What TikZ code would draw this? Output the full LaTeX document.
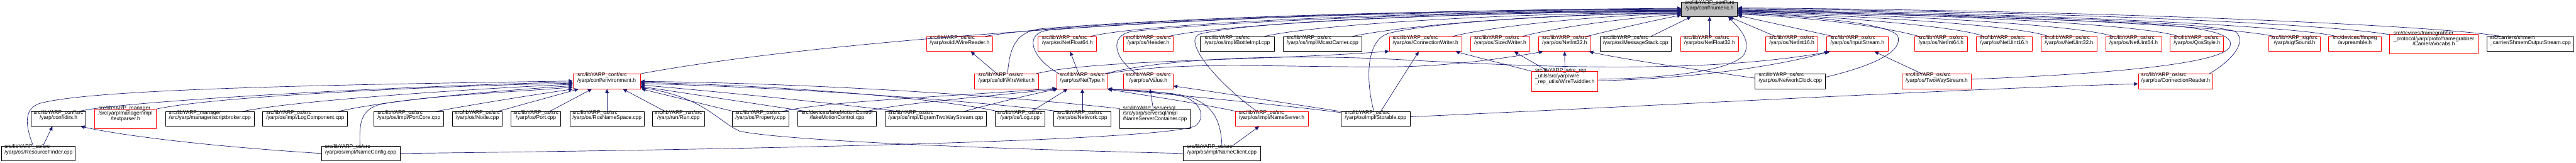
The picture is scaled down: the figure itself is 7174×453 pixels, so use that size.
\documentclass[tikz,border=0pt]{standalone}
\usepackage{fontspec}
\setmainfont{Liberation Sans}
\usetikzlibrary{calc,fit,arrows.meta}
\definecolor{edgec}{HTML}{191970}
\definecolor{boxgray}{HTML}{BFBFBF}
\newcommand\lblfont{\fontsize{7.4}{7.5}\selectfont}
\newcommand\lbtwo[2]{\begin{tabular}{@{}l@{}}#1\\\multicolumn{1}{@{}c@{}}{#2}\end{tabular}}
\newcommand\lbthree[3]{\begin{tabular}{@{}l@{}}#1\\#2\\\multicolumn{1}{@{}c@{}}{#3}\end{tabular}}
\newcommand\yos{src/libYARP\_os/src}
\begin{document}
\begin{tikzpicture}[x=0.5pt,y=-0.5pt,
 nbox/.style={draw=black,line width=0.8pt,inner sep=0pt,font=\lblfont},
 rbox/.style={nbox,draw=red},
 gbox/.style={nbox,fill=boxgray},
 edg/.style={draw=edgec,line width=0.6pt,-{Triangle[length=5.5pt,width=5pt]}}]
\fill[white] (0,0) rectangle (7174,453);
\useasboundingbox (0,0) rectangle (7174,453);
% row 1
\node[gbox,fit={(4683,6)(4839,46)}] (num) {\lbtwo{src/libYARP\_conf/src}{/yarp/conf/numeric.h}};
% row 2
\node[rbox,fit={(2580,102)(2765,143)}] (wread) {\lbtwo{\yos}{/yarp/os/idl/WireReader.h}};
\node[rbox,fit={(2891,102)(3054,143)}] (nf64) {\lbtwo{\yos}{/yarp/os/NetFloat64.h}};
\node[rbox,fit={(3129,102)(3267,143)}] (hdr) {\lbtwo{\yos}{/yarp/os/Header.h}};
\node[nbox,fit={(3343,102)(3549,143)}] (bimpl) {\lbtwo{\yos}{/yarp/os/impl/BottleImpl.cpp}};
\node[nbox,fit={(3573,102)(3793,143)}] (mcast) {\lbtwo{\yos}{/yarp/os/impl/McastCarrier.cpp}};
\node[rbox,fit={(3869,102)(4071,143)}] (cwrite) {\lbtwo{\yos}{/yarp/os/ConnectionWriter.h}};
\node[rbox,fit={(4096,102)(4260,143)}] (swrite) {\lbtwo{\yos}{/yarp/os/SizedWriter.h}};
\node[rbox,fit={(4284,102)(4431,143)}] (ni32) {\lbtwo{\yos}{/yarp/os/NetInt32.h}};
\node[nbox,fit={(4456,102)(4654,143)}] (mstack) {\lbtwo{\yos}{/yarp/os/MessageStack.cpp}};
\node[rbox,fit={(4680,102)(4842,143)}] (nf32) {\lbtwo{\yos}{/yarp/os/NetFloat32.h}};
\node[rbox,fit={(4917,102)(5063,143)}] (ni16) {\lbtwo{\yos}{/yarp/os/NetInt16.h}};
\node[rbox,fit={(5087,102)(5258,143)}] (istream) {\lbtwo{\yos}{/yarp/os/InputStream.h}};
\node[rbox,fit={(5332,102)(5479,143)}] (ni64) {\lbtwo{\yos}{/yarp/os/NetInt64.h}};
\node[rbox,fit={(5503,102)(5660,143)}] (nu16) {\lbtwo{\yos}{/yarp/os/NetUint16.h}};
\node[rbox,fit={(5684,102)(5840,143)}] (nu32) {\lbtwo{\yos}{/yarp/os/NetUint32.h}};
\node[rbox,fit={(5864,102)(6020,143)}] (nu64) {\lbtwo{\yos}{/yarp/os/NetUint64.h}};
\node[rbox,fit={(6044,102)(6192,143)}] (qos) {\lbtwo{\yos}{/yarp/os/QosStyle.h}};
\node[rbox,fit={(6318,102)(6462,143)}] (sound) {\lbtwo{src/libYARP\_sig/src}{/yarp/sig/Sound.h}};
\node[rbox,fit={(6485,102)(6631,143)}] (avpre) {\lbtwo{src/devices/ffmpeg}{/avpreamble.h}};
\node[rbox,fit={(6655,95)(6901,150)}] (camvoc) {\lbthree{src/devices/framegrabber}{\_protocol/yarp/proto/framegrabber}{/CameraVocabs.h}};
\node[nbox,fit={(6926,102)(7168,143)}] (shmem) {\lbtwo{src/carriers/shmem}{\_carrier/ShmemOutputStream.cpp}};
% row 3
\node[rbox,fit={(1596,206)(1783,247)}] (env) {\lbtwo{src/libYARP\_conf/src}{/yarp/conf/environment.h}};
\node[rbox,fit={(2714,206)(2892,247)}] (wwrite) {\lbtwo{\yos}{/yarp/os/idl/WireWriter.h}};
\node[rbox,fit={(2943,206)(3085,247)}] (ntype) {\lbtwo{\yos}{/yarp/os/NetType.h}};
\node[rbox,fit={(3129,206)(3267,247)}] (value) {\lbtwo{\yos}{/yarp/os/Value.h}};
\node[rbox,fit={(4266,199)(4450,254)}] (twiddle) {\lbthree{src/libYARP\_wire\_rep}{\_utils/src/yarp/wire}{\_rep\_utils/WireTwiddler.h}};
\node[nbox,fit={(4888,206)(5084,247)}] (nclock) {\lbtwo{\yos}{/yarp/os/NetworkClock.cpp}};
\node[rbox,fit={(5298,206)(5489,247)}] (twoway) {\lbtwo{\yos}{/yarp/os/TwoWayStream.h}};
\node[rbox,fit={(5955,206)(6163,247)}] (creader) {\lbtwo{\yos}{/yarp/os/ConnectionReader.h}};
% row 4
\node[nbox,fit={(87,311)(239,351)}] (dirs) {\lbtwo{src/libYARP\_conf/src}{/yarp/conf/dirs.h}};
\node[rbox,fit={(263,303)(436,358)}] (tparse) {\lbthree{src/libYARP\_manager}{/src/yarp/manager/impl}{/textparser.h}};
\node[nbox,fit={(461,311)(708,351)}] (sbroker) {\lbtwo{src/libYARP\_manager}{/src/yarp/manager/scriptbroker.cpp}};
\node[nbox,fit={(732,311)(968,351)}] (logcomp) {\lbtwo{\yos}{/yarp/os/impl/LogComponent.cpp}};
\node[nbox,fit={(1042,311)(1236,351)}] (pcore) {\lbtwo{\yos}{/yarp/os/impl/PortCore.cpp}};
\node[nbox,fit={(1260,311)(1399,351)}] (nodecpp) {\lbtwo{\yos}{/yarp/os/Node.cpp}};
\node[nbox,fit={(1423,311)(1562,351)}] (portcpp) {\lbtwo{\yos}{/yarp/os/Port.cpp}};
\node[nbox,fit={(1587,311)(1794,351)}] (rosns) {\lbtwo{\yos}{/yarp/os/RosNameSpace.cpp}};
\node[nbox,fit={(1817,311)(1962,351)}] (runcpp) {\lbtwo{src/libYARP\_run/src}{/yarp/run/Run.cpp}};
\node[nbox,fit={(2039,311)(2197,351)}] (prop) {\lbtwo{\yos}{/yarp/os/Property.cpp}};
\node[nbox,fit={(2222,311)(2441,351)}] (fakemc) {\lbtwo{src/devices/fakeMotionControl}{/fakeMotionControl.cpp}};
\node[nbox,fit={(2465,311)(2747,351)}] (dgram) {\lbtwo{\yos}{/yarp/os/impl/DgramTwoWayStream.cpp}};
\node[nbox,fit={(2771,311)(2910,351)}] (logcpp) {\lbtwo{\yos}{/yarp/os/Log.cpp}};
\node[nbox,fit={(2934,311)(3094,351)}] (netw) {\lbtwo{\yos}{/yarp/os/Network.cpp}};
\node[nbox,fit={(3119,303)(3314,358)}] (nsc) {\lbthree{src/libYARP\_serversql}{/src/yarp/serversql/impl}{/NameServerContainer.cpp}};
\node[rbox,fit={(3440,311)(3643,351)}] (nserver) {\lbtwo{\yos}{/yarp/os/impl/NameServer.h}};
\node[nbox,fit={(3735,311)(3927,351)}] (storable) {\lbtwo{\yos}{/yarp/os/impl/Storable.cpp}};
% row 5
\node[nbox,fit={(5,407)(210,447)}] (rfind) {\lbtwo{\yos}{/yarp/os/ResourceFinder.cpp}};
\node[nbox,fit={(895,407)(1114,447)}] (nconf) {\lbtwo{\yos}{/yarp/os/impl/NameConfig.cpp}};
\node[nbox,fit={(3296,407)(3510,447)}] (nclient) {\lbtwo{\yos}{/yarp/os/impl/NameClient.cpp}};

% edges into environment.h
\draw[edg] ($(rfind.north)+(-15,0)$) .. controls (75,360) and (60,305) .. (110,288) .. controls (250,248) and (900,236) .. ($(env.west)+(0,-1)$);
\draw[edg] ($(dirs.north east)+(-21,0)$) .. controls (330,282) and (1100,240) .. ($(env.west)+(0,2)$);
\draw[edg] ($(tparse.north east)+(0,1)$) .. controls (600,268) and (1200,240) .. ($(env.west)+(0,5)$);
\draw[edg] ($(sbroker.north east)+(-34,0)$) .. controls (820,280) and (1300,248) .. ($(env.west)+(0,8)$);
\draw[edg] ($(logcomp.north east)+(-28,0)$) .. controls (1100,275) and (1400,252) .. ($(env.west)+(0,12)$);
\draw[edg] ($(nconf.north)+(-2,0)$) .. controls (1000,340) and (1005,305) .. (1060,290) .. controls (1200,265) and (1450,255) .. ($(env.west)+(0,16)$);
\draw[edg] ($(pcore.north)+(74,0)$) .. controls (1350,285) and (1500,262) .. (env.south west);
\draw[edg] ($(nodecpp.north)+(56,0)$) -- ($(env.south west)+(16,0)$);
\draw[edg] ($(portcpp.north)+(38,0)$) -- ($(env.south west)+(53,0)$);
\draw[edg] (rosns.north) -- ($(env.south)+(1,0)$);
\draw[edg] ($(runcpp.north)+(-37,0)$) -- ($(env.south east)+(-49,0)$);
\draw[edg] ($(prop.north west)+(5,0)$) -- ($(env.south east)+(3,0)$);
\draw[edg] ($(fakemc.north west)+(26,0)$) -- ($(env.east)+(0,14)$);
\draw[edg] ($(dgram.north west)+(39,0)$) .. controls (2300,285) and (2000,255) .. ($(env.east)+(0,10)$);
\draw[edg] (nsc.north west) .. controls (2750,262) and (2250,232) .. (env.east);
\draw[edg] ($(logcpp.north west)+(9,0)$) .. controls (2650,280) and (2250,240) .. ($(env.east)+(0,3)$);
\draw[edg] ($(netw.north west)+(16,0)$) .. controls (2750,285) and (2250,245) .. ($(env.east)+(0,6)$);
\draw[edg] (nclient.west) .. controls (2900,418) and (2200,395) .. (2060,365) .. controls (1995,335) and (1960,270) .. ($(env.east)+(0,17)$);

% environment.h -> numeric.h
\draw[edg] (env.north east) .. controls (2300,110) and (3400,30) .. ($(num.west)+(0,-3)$);

% left row-2 nodes -> numeric.h
\draw[edg] ($(wread.north east)+(-22,0)$) .. controls (2950,62) and (3900,26) .. ($(num.west)+(0,-1)$);
\draw[edg] ($(nf64.north east)+(-18,0)$) .. controls (3200,62) and (4000,30) .. ($(num.west)+(0,4)$);
\draw[edg] ($(hdr.north east)+(-13,0)$) .. controls (3400,66) and (4100,32) .. ($(num.west)+(0,6)$);
\draw[edg] ($(bimpl.north east)+(-28,0)$) .. controls (3650,70) and (4200,35) .. ($(num.west)+(0,9)$);
\draw[edg] ($(mcast.north east)+(-27,0)$) .. controls (3900,72) and (4300,38) .. ($(num.west)+(0,10)$);
\draw[edg] ($(cwrite.north east)+(-26,0)$) .. controls (4150,74) and (4450,42) .. ($(num.west)+(0,12)$);
\draw[edg] ($(swrite.north east)+(-20,0)$) .. controls (4320,78) and (4550,47) .. ($(num.west)+(0,14)$);
\draw[edg] ($(ni32.north east)+(-13,0)$) .. controls (4480,86) and (4600,58) .. ($(num.west)+(0,16)$);
\draw[edg] ($(mstack.north)+(43,0)$) -- ($(num.south west)+(27,0)$);
\draw[edg] (nf32.north) -- (num.south);

% curves from lower rows -> numeric.h
\draw[edg] ($(wwrite.north)+(3,0)$) .. controls (2812,130) and (2830,88) .. (2900,80) .. controls (3400,40) and (4200,26) .. ($(num.west)+(0,1)$);
\draw[edg] ($(ntype.north west)+(7,0)$) .. controls (2870,160) and (2850,92) .. (2920,84) .. controls (3400,44) and (4200,28) .. ($(num.west)+(0,3)$);
\draw[edg] ($(value.north)+(-33,0)$) .. controls (3100,160) and (3090,100) .. (3150,88) .. controls (3450,55) and (4200,30) .. ($(num.west)+(0,5)$);
\draw[edg] ($(nserver.north)+(-40,0)$) .. controls (3400,240) and (3290,115) .. (3340,95) .. controls (3500,55) and (4200,32) .. ($(num.west)+(0,7)$);
\draw[edg] ($(storable.north)+(-5,0)$) .. controls (3805,230) and (3800,110) .. (3870,92) .. controls (4000,60) and (4400,38) .. ($(num.west)+(0,11)$);
\draw[edg] ($(twiddle.east)+(0,-6)$) .. controls (4650,218) and (4830,195) .. (4858,150) .. controls (4878,110) and (4840,75) .. ($(num.south)+(52,0)$);

% right side -> numeric.h
\draw[edg] ($(ni16.north west)+(28,0)$) -- ($(num.south)+(55,0)$);
\draw[edg] ($(istream.north west)+(19,0)$) -- ($(num.east)+(0,17)$);
\draw[edg] ($(ni64.north)+(-61,0)$) .. controls (5200,62) and (4950,43) .. ($(num.east)+(0,14)$);
\draw[edg] ($(nclock.east)+(0,-12)$) .. controls (5230,180) and (5300,140) .. (5285,100) .. controls (5260,62) and (5000,42) .. ($(num.east)+(0,12)$);
\draw[edg] ($(nu16.north)+(-58,0)$) .. controls (5460,72) and (5050,42) .. ($(num.east)+(0,10)$);
\draw[edg] ($(nu32.north)+(-58,0)$) .. controls (5620,68) and (5100,40) .. ($(num.east)+(0,8)$);
\draw[edg] ($(nu64.north)+(-57,0)$) .. controls (5780,66) and (5200,38) .. ($(num.east)+(0,7)$);
\draw[edg] ($(qos.north)+(-52,0)$) .. controls (5960,64) and (5300,36) .. ($(num.east)+(0,6)$);
\draw[edg] ($(twoway.east)+(0,-6)$) .. controls (5900,205) and (6190,175) .. (6210,130) .. controls (6230,88) and (6100,70) .. (5900,62) .. controls (5500,46) and (5100,36) .. ($(num.east)+(0,4)$);
\draw[edg] ($(creader.north east)+(-11,0)$) .. controls (6230,160) and (6255,110) .. (6225,88) .. controls (6150,58) and (5400,38) .. ($(num.east)+(0,3)$);
\draw[edg] ($(sound.north)+(-57,0)$) .. controls (6200,70) and (5400,36) .. ($(num.east)+(0,2)$);
\draw[edg] ($(avpre.north)+(-52,0)$) .. controls (6380,68) and (5500,33) .. (num.east);
\draw[edg] ($(camvoc.north west)+(0,2)$) .. controls (6450,62) and (5600,30) .. ($(num.east)+(0,-2)$);
\draw[edg] ($(shmem.north)+(-84,0)$) .. controls (6800,70) and (5800,28) .. ($(num.east)+(0,-4)$);

% other edges
\draw[edg] ($(wwrite.north west)+(63,0)$) -- ($(wread.south east)+(-62,0)$);
\draw[edg] ($(ntype.north)+(-10,0)$) -- ($(nf64.south)+(8,0)$);
\draw[edg] ($(wwrite.north east)+(-8,0)$) .. controls (3050,165) and (3500,170) .. ($(cwrite.south west)+(0,-1)$);
\draw[edg] ($(ntype.north east)+(-9,0)$) .. controls (3250,160) and (3600,150) .. (3900,166) .. controls (4300,188) and (4750,205) .. ($(istream.south west)+(10,0)$);
\draw[edg] ($(ntype.north east)+(-5,0)$) .. controls (3300,168) and (3550,188) .. (3880,186) .. controls (4050,184) and (4200,160) .. ($(ni32.south west)+(14,0)$);
\draw[edg] (twiddle.north west) -- ($(cwrite.south east)+(-18,0)$);
\draw[edg] ($(twiddle.north)+(-46,0)$) -- ($(swrite.south)+(39,0)$);
\draw[edg] (twiddle.north) -- (ni32.south);
\draw[edg] ($(twiddle.east)+(0,-2)$) .. controls (4700,220) and (4950,185) .. ($(istream.south west)+(6,0)$);
\draw[edg] ($(nclock.west)+(0,-9)$) .. controls (4700,190) and (4520,165) .. ($(ni32.south east)+(-6,0)$);
\draw[edg] ($(twoway.north)+(-41,0)$) -- ($(istream.south)+(48,0)$);
\draw[edg] ($(storable.north)+(14,0)$) -- ($(cwrite.south)+(-19,0)$);
\draw[edg] ($(storable.east)+(0,-6)$) .. controls (4500,300) and (5500,245) .. ($(creader.west)+(0,7)$);
\draw[edg] (storable.north west) .. controls (3600,290) and (3400,258) .. ($(value.east)+(0,13)$);
\draw[edg] ($(storable.north west)+(0,3)$) .. controls (3550,290) and (3250,262) .. ($(ntype.south east)+(0,-1)$);
\draw[edg] ($(nserver.north west)+(5,0)$) .. controls (3300,280) and (3150,260) .. (ntype.south east);
\draw[edg] ($(nsc.north)+(-5,0)$) -- ($(value.south)+(5,0)$);
\draw[edg] (nclient.north) .. controls (3400,330) and (3375,272) .. (3260,260) .. controls (3180,253) and (3120,250) .. ($(ntype.south east)+(0,1)$);
\draw[edg] ($(nclient.north east)+(-79,0)$) -- ($(nserver.south)+(-35,0)$);
\draw[edg] (nconf.east) .. controls (2200,415) and (3250,390) .. (3330,350) .. controls (3355,330) and (3350,290) .. (3300,270) .. controls (3230,252) and (3150,250) .. ($(ntype.south east)+(0,2)$);
\draw[edg] (nconf.west) .. controls (550,405) and (330,375) .. ($(dirs.south east)+(-15,0)$);
\draw[edg] ($(rfind.north)+(12,0)$) -- ($(dirs.south)+(-17,0)$);
\draw[edg] ($(prop.north east)+(-21,0)$) .. controls (2300,282) and (2650,268) .. ($(ntype.south west)+(0,-2)$);
\draw[edg] ($(fakemc.north east)+(-29,0)$) .. controls (2500,288) and (2750,268) .. (ntype.south west);
\draw[edg] ($(dgram.north east)+(-64,0)$) .. controls (2760,290) and (2860,265) .. ($(ntype.south west)+(3,0)$);
\draw[edg] ($(logcpp.north)+(32,0)$) -- ($(ntype.south)+(-41,0)$);
\draw[edg] (netw.north) -- (ntype.south);
\end{tikzpicture}
\end{document}
